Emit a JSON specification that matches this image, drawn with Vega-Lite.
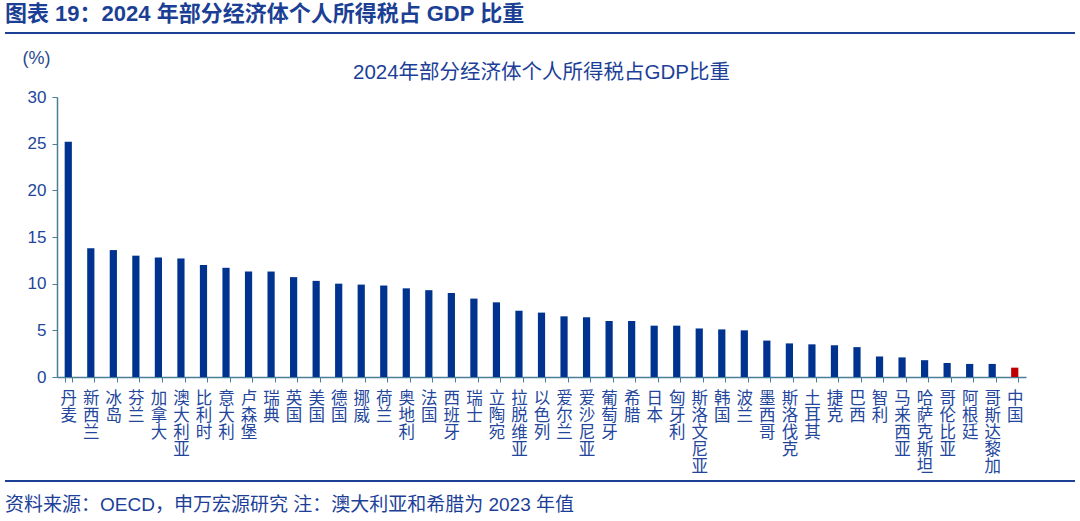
{
  "$schema": "https://vega.github.io/schema/vega-lite/v6.json",
  "background": "white",
  "padding": {"left": 5, "top": 3, "right": 5, "bottom": 5},
  "bounds": "full",
  "spacing": 15,
  "config": {
    "view": {"stroke": null},
    "font": "Liberation Sans, Noto Sans CJK SC"
  },
  "datasets": {
    "tax": [
      {"country": "丹麦", "value": 25.2},
      {"country": "新西兰", "value": 13.8},
      {"country": "冰岛", "value": 13.6},
      {"country": "芬兰", "value": 13.0},
      {"country": "加拿大", "value": 12.8},
      {"country": "澳大利亚", "value": 12.7},
      {"country": "比利时", "value": 12.0},
      {"country": "意大利", "value": 11.7},
      {"country": "卢森堡", "value": 11.3},
      {"country": "瑞典", "value": 11.3},
      {"country": "英国", "value": 10.7},
      {"country": "美国", "value": 10.3},
      {"country": "德国", "value": 10.0},
      {"country": "挪威", "value": 9.9},
      {"country": "荷兰", "value": 9.8},
      {"country": "奥地利", "value": 9.5},
      {"country": "法国", "value": 9.3},
      {"country": "西班牙", "value": 9.0},
      {"country": "瑞士", "value": 8.4},
      {"country": "立陶宛", "value": 8.0},
      {"country": "拉脱维亚", "value": 7.1},
      {"country": "以色列", "value": 6.9},
      {"country": "爱尔兰", "value": 6.5},
      {"country": "爱沙尼亚", "value": 6.4},
      {"country": "葡萄牙", "value": 6.0},
      {"country": "希腊", "value": 6.0},
      {"country": "日本", "value": 5.5},
      {"country": "匈牙利", "value": 5.5},
      {"country": "斯洛文尼亚", "value": 5.2},
      {"country": "韩国", "value": 5.1},
      {"country": "波兰", "value": 5.0},
      {"country": "墨西哥", "value": 3.9},
      {"country": "斯洛伐克", "value": 3.6},
      {"country": "土耳其", "value": 3.5},
      {"country": "捷克", "value": 3.4},
      {"country": "巴西", "value": 3.2},
      {"country": "智利", "value": 2.2},
      {"country": "马来西亚", "value": 2.1},
      {"country": "哈萨克斯坦", "value": 1.8},
      {"country": "哥伦比亚", "value": 1.5},
      {"country": "阿根廷", "value": 1.4},
      {"country": "哥斯达黎加", "value": 1.4},
      {"country": "中国", "value": 1.0}
    ]
  },
  "vconcat": [
    {
      "width": 1070,
      "height": 2,
      "view": {"fill": "#1b3f94", "stroke": null},
      "title": {
        "text": "图表 19：2024 年部分经济体个人所得税占 GDP 比重",
        "anchor": "start",
        "fontSize": 22,
        "fontWeight": "bold",
        "color": "#1b3f94",
        "offset": 6
      },
      "data": {"values": []},
      "mark": "point"
    },
    {
      "bounds": "full",
      "spacing": 4,
      "vconcat": [
        {
          "bounds": "flush",
          "spacing": 12,
          "hconcat": [
            {
              "width": 40,
              "height": 280,
              "data": {"values": []},
              "mark": "point"
            },
            {
              "width": 969,
              "height": 280,
              "data": {"name": "tax"},
              "title": {
                "text": "2024年部分经济体个人所得税占GDP比重",
                "anchor": "middle",
                "frame": "group",
                "fontSize": 20.5,
                "fontWeight": "normal",
                "color": "#1d3f98",
                "offset": -34
              },
              "mark": {"type": "bar"},
              "encoding": {
                "x": {
                  "field": "country",
                  "type": "nominal",
                  "sort": null,
                  "scale": {"paddingInner": 0.68, "paddingOuter": 0.34},
                  "axis": {
                    "title": null,
                    "labelAngle": 0,
                    "labelExpr": "split(datum.label, '')",
                    "labelLineHeight": 17.2,
                    "labelFontSize": 16.5,
                    "labelColor": "#23469c",
                    "labelBaseline": "top",
                    "labelPadding": 8,
                    "labelBound": false,
                    "tickBand": "extent",
                    "tickSize": 5,
                    "tickColor": "#4a7f99",
                    "domainColor": "#4a7f99",
                    "domainWidth": 1.5
                  }
                },
                "y": {
                  "field": "value",
                  "type": "quantitative",
                  "scale": {"domain": [0, 30]},
                  "axis": {
                    "values": [0, 5, 10, 15, 20, 25, 30],
                    "grid": false,
                    "title": "(%)",
                    "titleAngle": 0,
                    "titleX": -35,
                    "titleY": -39,
                    "titleAlign": "left",
                    "titleBaseline": "middle",
                    "titleFontSize": 18,
                    "titleFontWeight": "normal",
                    "titleColor": "#2b4a8f",
                    "labelFontSize": 17,
                    "labelColor": "#23469c",
                    "labelPadding": 6,
                    "tickSize": 5,
                    "tickColor": "#4a7f99",
                    "domainColor": "#4a7f99",
                    "domainWidth": 1.5
                  }
                },
                "color": {
                  "condition": {"test": "datum.country === '中国'", "value": "#c00000"},
                  "value": "#00338f"
                }
              }
            }
          ]
        },
        {
          "width": 1070,
          "height": 2,
          "view": {"fill": "#1b3f94", "stroke": null},
          "title": {
            "text": "资料来源：OECD，申万宏源研究 注：澳大利亚和希腊为 2023 年值",
            "orient": "bottom",
            "anchor": "start",
            "fontSize": 19,
            "fontWeight": "normal",
            "color": "#1d3f98",
            "offset": 14
          },
          "data": {"values": []},
          "mark": "point"
        }
      ]
    }
  ]
}
